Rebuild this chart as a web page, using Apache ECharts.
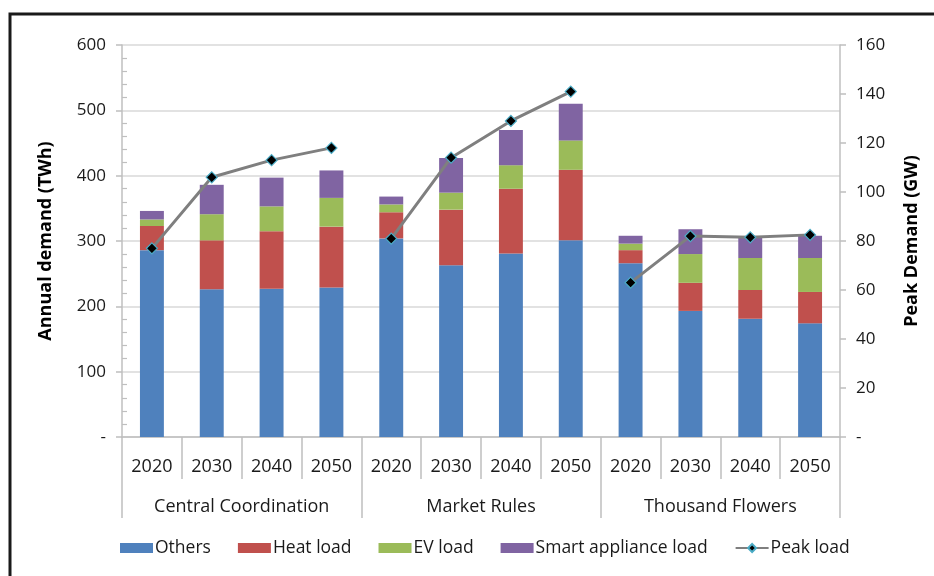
<!DOCTYPE html>
<html>
<head>
<meta charset="utf-8">
<script src="https://cdn.jsdelivr.net/npm/echarts@6/dist/echarts.min.js"></script>
<style>
html,body{margin:0;padding:0;background:#fff;}
#chart{width:934px;height:576px;}
</style>
</head>
<body>
<div id="chart"></div>
<script>
const years = ['2020','2030','2040','2050','2020','2030','2040','2050','2020','2030','2040','2050'];
const groups = ['Central Coordination','Market Rules','Thousand Flowers'];
const others = [286, 226, 227, 229, 304, 263, 281, 301, 266, 193, 181, 174];
const heatLoad = [37, 75, 88, 93, 40, 85, 99, 108, 20, 43, 44, 48];
const evLoad = [10, 40, 38, 44, 12, 26, 36, 45, 10, 44, 49, 52];
const smartLoad = [13, 45, 44, 42, 12, 53, 54, 56, 12, 38, 31, 34];
const peakLoad = [77, 106, 113, 118, 81, 114, 129, 141, 63, 82, 81.5, 82.5];

const FONT = '"Open Sans", "Noto Sans", sans-serif';
const TXT = '#1a1a1a';
const AX = '#bfbfbf';

const chart = echarts.init(document.getElementById('chart'));
const dash = v => (v === 0 ? '-' : String(v));

const barBase = {type: 'bar', stack: 'total', barWidth: '40%', xAxisIndex: 0, yAxisIndex: 0};

// Peak load drawn per scenario group (the line is broken between groups)
const peakSeries = groups.map((g, gi) => ({
  name: 'Peak load', type: 'line', xAxisIndex: 0, yAxisIndex: 1,
  data: peakLoad.map((v, i) => (Math.floor(i / 4) === gi ? v : '-')),
  symbol: 'diamond', symbolSize: 11, z: 5,
  lineStyle: {color: '#7f7f7f', width: 3},
  itemStyle: {color: '#000', borderColor: '#4bacc6', borderWidth: 1.2}
}));

chart.setOption({
  animation: false,
  textStyle: {fontFamily: FONT},
  graphic: [{
    type: 'rect', shape: {x: 10, y: 14, width: 960, height: 600},
    style: {fill: 'none', stroke: '#1a1a1a', lineWidth: 3}, silent: true
  }],
  grid: {left: 122, right: 94, top: 45, bottom: 139},
  legend: {
    left: 115, top: 534, itemWidth: 33, itemHeight: 10, itemGap: 27,
    textStyle: {fontFamily: FONT, fontSize: 17.5, color: TXT, padding: [0, 0, 0, -3]},
    data: [
      {name: 'Others', icon: 'rect'},
      {name: 'Heat load', icon: 'rect'},
      {name: 'EV load', icon: 'rect'},
      {name: 'Smart appliance load', icon: 'rect'},
      {name: 'Peak load'}
    ]
  },
  xAxis: [{
    type: 'category', data: years, position: 'bottom',
    axisLine: {lineStyle: {color: AX, width: 1.5}},
    axisTick: {show: true, interval: 0, length: 42, lineStyle: {color: AX, width: 1.5}},
    axisLabel: {interval: 0, margin: 21, fontSize: 18, color: TXT, fontFamily: FONT},
    splitLine: {show: false}
  }, {
    type: 'category', data: groups, position: 'bottom', offset: 0,
    axisLine: {show: false},
    axisTick: {show: true, interval: 0, length: 81, lineStyle: {color: AX, width: 1.5}},
    axisLabel: {interval: 0, margin: 61, fontSize: 18, color: TXT, fontFamily: FONT},
    splitLine: {show: false}
  }],
  yAxis: [{
    type: 'value', min: 0, max: 600, interval: 100, position: 'left',
    name: 'Annual demand (TWh)', nameLocation: 'middle', nameGap: 67, nameRotate: 90,
    nameTextStyle: {fontWeight: 'bold', fontSize: 18, color: '#000', fontFamily: FONT},
    axisLine: {show: true, lineStyle: {color: AX, width: 1.5}},
    axisTick: {show: true, length: 6, lineStyle: {color: AX, width: 1.5}},
    axisLabel: {formatter: dash, fontSize: 17, color: TXT, margin: 16, fontFamily: FONT},
    splitLine: {show: true, lineStyle: {color: '#d9d9d9', width: 1.5}}
  }, {
    type: 'value', min: 0, max: 160, interval: 20, position: 'right',
    name: 'Peak Demand (GW)', nameLocation: 'middle', nameGap: 63, nameRotate: 90,
    nameTextStyle: {fontWeight: 'bold', fontSize: 18, color: '#000', fontFamily: FONT},
    axisLine: {show: true, lineStyle: {color: AX, width: 1.5}},
    axisTick: {show: true, length: 6, lineStyle: {color: AX, width: 1.5}},
    axisLabel: {formatter: dash, fontSize: 17, color: TXT, margin: 16, fontFamily: FONT},
    splitLine: {show: false}
  }, {
    type: 'value', min: 0, max: 600, interval: 100, position: 'left',
    axisLine: {show: false},
    axisTick: {show: false, inside: true, length: 5},
    minorTick: {show: true, splitNumber: 5, length: 5, lineStyle: {color: AX, width: 1.2}},
    axisLabel: {show: false},
    splitLine: {show: false}
  }],
  series: [
    Object.assign({name: 'Others', data: others, itemStyle: {color: '#4f81bd'}}, barBase),
    Object.assign({name: 'Heat load', data: heatLoad, itemStyle: {color: '#c0504d'}}, barBase),
    Object.assign({name: 'EV load', data: evLoad, itemStyle: {color: '#9bbb59'}}, barBase),
    Object.assign({name: 'Smart appliance load', data: smartLoad, itemStyle: {color: '#8064a2'}}, barBase)
  ].concat(peakSeries)
});
</script>
</body>
</html>
